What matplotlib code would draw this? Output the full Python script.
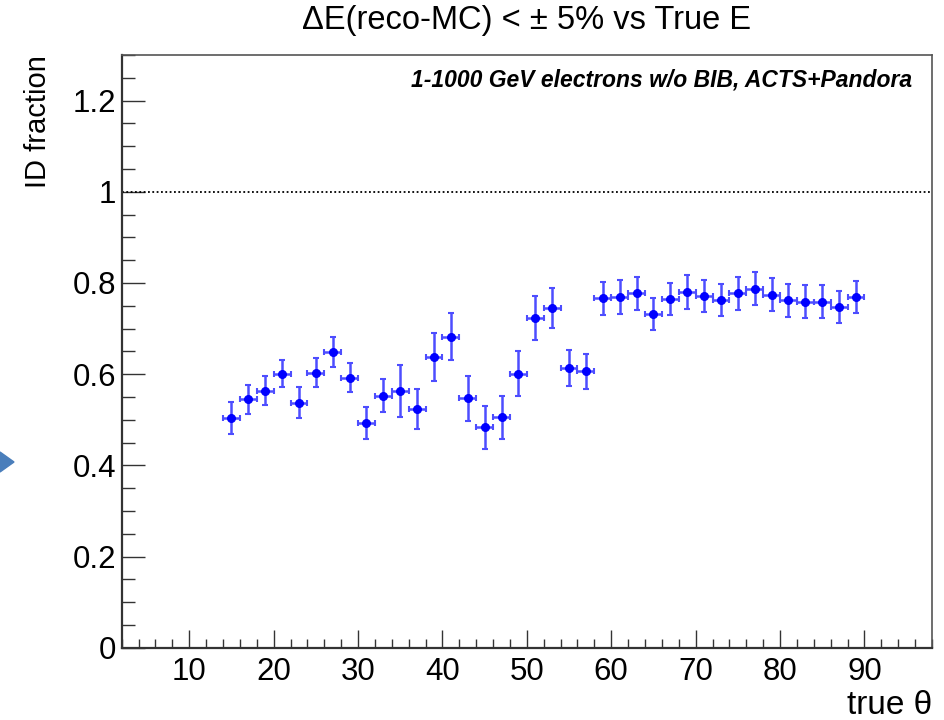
import numpy as np
import matplotlib
matplotlib.use("Agg")
import matplotlib.pyplot as plt
from matplotlib.ticker import MultipleLocator, FuncFormatter
from matplotlib.patches import Polygon

plt.rcParams['font.family'] = ['Liberation Sans', 'DejaVu Sans']

# bin centres of true theta (2 degree bins)
theta = [15, 17, 19, 21, 23, 25, 27, 29, 31, 33, 35, 37, 39, 41, 43, 45, 47, 49, 51,
         53, 55, 57, 59, 61, 63, 65, 67, 69, 71, 73, 75, 77, 79, 81, 83, 85, 87, 89]
theta_err = 1.0

id_frac = [0.503, 0.545, 0.564, 0.601, 0.537, 0.603, 0.649, 0.592, 0.493, 0.553,
           0.564, 0.524, 0.638, 0.682, 0.547, 0.483, 0.505, 0.601, 0.723, 0.745,
           0.614, 0.606, 0.766, 0.769, 0.777, 0.731, 0.764, 0.780, 0.772, 0.763,
           0.777, 0.787, 0.774, 0.762, 0.759, 0.759, 0.747, 0.770]
id_frac_err = [0.035, 0.032, 0.032, 0.030, 0.034, 0.032, 0.033, 0.032, 0.035, 0.036,
               0.057, 0.044, 0.052, 0.052, 0.050, 0.048, 0.048, 0.050, 0.048, 0.043,
               0.040, 0.038, 0.037, 0.037, 0.037, 0.035, 0.035, 0.037, 0.035, 0.035,
               0.036, 0.036, 0.036, 0.036, 0.036, 0.036, 0.035, 0.035]

title = "\u0394E(reco-MC) < \u00b1 5% vs True E"
label_text = "1-1000 GeV electrons w/o BIB, ACTS+Pandora"

fig = plt.figure(figsize=(9.45, 7.2), dpi=100)
ax = fig.add_axes([0.1288, 0.1004, 0.8574, 0.8232])

ax.errorbar(theta, id_frac, xerr=theta_err, yerr=id_frac_err, fmt='o',
            color='#0000ff', ms=5.5, ecolor='#4d4dff', elinewidth=1.8,
            capsize=2.2, capthick=1.5, zorder=3)

ax.axhline(1.0, color='black', lw=1.3, ls=(0, (1, 1.4)), zorder=2)

ax.set_xlim(2, 98)
ax.set_ylim(0, 1.3)

ax.xaxis.set_major_locator(MultipleLocator(10))
ax.xaxis.set_minor_locator(MultipleLocator(2))
ax.yaxis.set_major_locator(MultipleLocator(0.2))
ax.yaxis.set_minor_locator(MultipleLocator(0.05))
ax.yaxis.set_major_formatter(FuncFormatter(lambda v, p: f"{v:g}"))

ax.tick_params(axis='both', which='both', direction='in', top=False, right=False,
               color='#333333', width=1.0, labelsize=22.5)
ax.tick_params(axis='x', which='major', length=13, pad=7)
ax.tick_params(axis='x', which='minor', length=6.7)
ax.tick_params(axis='y', which='major', length=16.5, pad=4)
ax.tick_params(axis='y', which='minor', length=9)

for side in ['left', 'bottom']:
    ax.spines[side].set_linewidth(1.6)
    ax.spines[side].set_color('#333333')
for side in ['top', 'right']:
    ax.spines[side].set_linewidth(1.2)
    ax.spines[side].set_color('#555555')

ax.set_xlabel("true \u03b8", fontsize=24, loc='right')
ax.xaxis.label.set_va('center')
ax.xaxis.set_label_coords(1.0, -0.097)
ax.set_ylabel("ID fraction", fontsize=21, loc='top')
ax.yaxis.set_label_coords(-0.086, 1.0)

ax.set_title(title, fontsize=23.5, pad=19)

ax.text(0.975, 0.958, label_text, transform=ax.transAxes, ha='right', va='center',
        fontsize=16.5, fontweight='bold', fontstyle='italic')

# slide arrow at the left edge
tri = Polygon([[0, 1 - 452 / 720], [14 / 945, 1 - 462 / 720], [0, 1 - 472 / 720]],
              closed=True, transform=fig.transFigure, color='#4a7ebb')
fig.add_artist(tri)

fig.savefig("out.png", dpi=100)
